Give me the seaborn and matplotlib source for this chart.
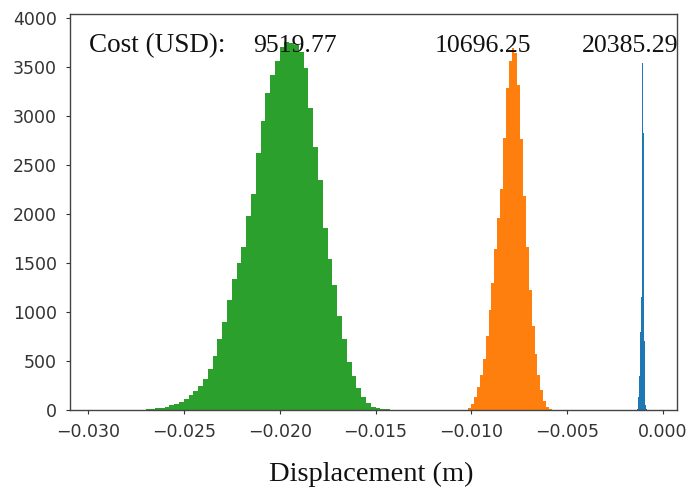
import numpy as np
import pandas as pd
import matplotlib
matplotlib.use("Agg")
import matplotlib.pyplot as plt
import seaborn as sns

# histogram bin heights (counts per bin)
green_start, green_width = -0.0270, 0.00025
green_counts = [8, 12, 18, 25, 35, 48, 65, 85, 110, 150, 195, 245, 320, 420,
                550, 720, 900, 1120, 1340, 1500, 1660, 1980, 2200, 2620, 2950,
                3230, 3420, 3560, 3700, 3750, 3740, 3720, 3650, 3490, 3080,
                2680, 2350, 1860, 1540, 1280, 960, 720, 490, 350, 220, 130,
                75, 35, 20, 12, 6, 3]

orange_start, orange_width = -0.0103, 0.00015
orange_counts = [5, 20, 60, 130, 230, 360, 520, 760, 1020, 1300, 1640, 1960,
                 2250, 2780, 3280, 3560, 3690, 3640, 3320, 2760, 2180, 1660,
                 1220, 860, 570, 360, 200, 90, 30, 8]

blue_start, blue_width = -0.00136, 0.00004
blue_counts = [10, 40, 130, 350, 800, 1150, 1245, 3540, 2830, 700, 200, 50, 10]

cost_label = "Cost (USD):"
costs = ["9519.77", "10696.25", "20385.29"]
cost_x = [-0.02141, -0.01193, -0.00422]

series = [
    ("blue", blue_start, blue_width, blue_counts, "#1f77b4"),
    ("orange", orange_start, orange_width, orange_counts, "#ff7f0e"),
    ("green", green_start, green_width, green_counts, "#2ca02c"),
]

sns.set_style("ticks")
plt.rcParams["font.family"] = ["DejaVu Sans"]

fig = plt.figure(figsize=(6.89, 4.91), dpi=100)
ax = fig.add_axes([70 / 689, 1 - 410 / 491, 607 / 689, 396 / 491])

for name, start, width, counts, color in series:
    n = len(counts)
    edges = start + width * np.arange(n + 1)
    df = pd.DataFrame({"x": (edges[:-1] + edges[1:]) / 2,
                       "w": np.asarray(counts, dtype=float)})
    sns.histplot(data=df, x="x", weights="w", bins=edges.tolist(), ax=ax,
                 color=color, alpha=1, linewidth=0, element="bars", fill=True)

ax.set_xlim(-0.03094, 0.00073)
ax.set_ylim(0, 4040)
ax.set_xticks([-0.030, -0.025, -0.020, -0.015, -0.010, -0.005, 0.0])
ax.set_xticklabels(["\u22120.030", "\u22120.025", "\u22120.020", "\u22120.015",
                    "\u22120.010", "\u22120.005", "0.000"])
ax.set_yticks(range(0, 4001, 500))
ax.set_xlabel("")
ax.set_ylabel("")
ax.tick_params(labelsize=12.5, colors="#333333", length=3, pad=6.5)
for s in ax.spines.values():
    s.set_visible(True)
    s.set_color("#444444")
    s.set_linewidth(1.0)

serif = ["Liberation Serif", "DejaVu Serif"]
ax.text(-0.02995, 3650, cost_label, family=serif, fontsize=19.5,
        va="baseline", ha="left", color="#111111")
for x, c in zip(cost_x, costs):
    ax.text(x, 3650, c, family=serif, fontsize=18.5, va="baseline",
            ha="left", color="#111111")

fig.text(371 / 689, 1 - 481 / 491, "Displacement (m)", family=serif,
         fontsize=20.5, ha="center", va="baseline", color="#111111")

fig.savefig("out.png", dpi=100)
